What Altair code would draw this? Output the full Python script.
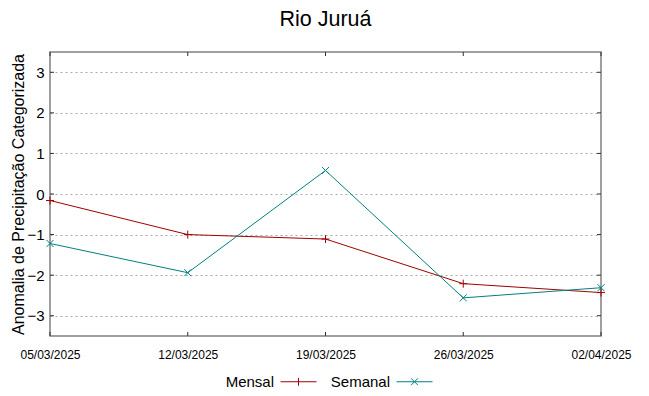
import altair as alt
import pandas as pd

dates = ["2025-03-05", "2025-03-12", "2025-03-19", "2025-03-26", "2025-04-02"]
mensal = [-0.16, -1.0, -1.11, -2.21, -2.43]
semanal = [-1.22, -1.94, 0.58, -2.56, -2.31]
series = ["Mensal", "Semanal"]
colors = ["#a00000", "#008080"]
y_ticks = [-3, -2, -1, 0, 1, 2, 3]

df = pd.DataFrame({
    "data": dates * 2,
    "valor": mensal + semanal,
    "serie": ["Mensal"] * len(dates) + ["Semanal"] * len(dates),
})
df_yt = pd.DataFrame({"valor": y_ticks})
df_xt = pd.DataFrame({"data": dates})

W, H = 551, 284
TICK = 4
FRAME = "#808080"
TICKCOL = "#303030"

PLUS = "M-1,0H1M0,-1V1"
CROSS = "M-1,-1L1,1M-1,1L1,-1"
LEG_PLUS = "M-1,0H1M0,-0.22V0.22"
LEG_CROSS = "M-1,0H1M-0.19,-0.19L0.19,0.19M-0.19,0.19L0.19,-0.19"


def dt(s):
    y, m, d = map(int, s.split("-"))
    return alt.DateTime(year=y, month=m, date=d, utc=True)


x = alt.X(
    "data:T",
    title=None,
    scale=alt.Scale(type="utc", domain=[dt(dates[0]), dt(dates[-1])]),
    axis=alt.Axis(
        values=[dt(d) for d in dates],
        format="%d/%m/%Y",
        grid=False,
        ticks=False,
        domain=False,
        labelFlush=False,
        labelOverlap=False,
        labelFont="Liberation Sans",
        labelFontSize=12,
        labelPadding=13,
        labelColor="#000000",
    ),
)
y = alt.Y(
    "valor:Q",
    title="Anomalia de Precipitação Categorizada",
    scale=alt.Scale(domain=[-3.5, 3.5], nice=False, zero=False),
    axis=alt.Axis(
        values=y_ticks,
        grid=True,
        gridDash=[2, 3],
        gridColor="#a8a8a8",
        gridWidth=1,
        ticks=False,
        domain=False,
        labelFont="Liberation Sans",
        labelFontSize=15,
        labelPadding=6,
        labelColor="#000000",
        titleFont="Liberation Sans",
        titleFontSize=16,
        titleFontWeight="normal",
        titleColor="#000000",
        titlePadding=0,
    ),
)

leg = alt.Legend(
    title=None,
    orient="none",
    legendX=230,
    legendY=311,
    direction="horizontal",
    labelFont="Liberation Sans",
    labelFontSize=15,
    labelColor="#000000",
    labelAlign="right",
    labelOffset=alt.ExprRef(expr="-43"),
    columnPadding=11,
    symbolStrokeWidth=1,
    symbolSize=1296,
)

color = alt.Color("serie:N", scale=alt.Scale(domain=series, range=colors), legend=leg)

base = alt.Chart(df)

lines = base.mark_line(strokeWidth=1).encode(x=x, y=y, color=color)

pts_m = base.transform_filter(alt.datum.serie == "Mensal").mark_point(
    shape=PLUS, size=64, filled=False, strokeWidth=1, color=colors[0], opacity=1
).encode(x=x, y=y)
pts_s = base.transform_filter(alt.datum.serie == "Semanal").mark_point(
    shape=CROSS, size=49, filled=False, strokeWidth=1, color=colors[1], opacity=1
).encode(x=x, y=y)

legend_layer = base.transform_filter("false").mark_point(
    filled=False, strokeWidth=1, size=1296, opacity=1
).encode(
    x=x,
    y=y,
    color=color,
    shape=alt.Shape("serie:N", scale=alt.Scale(domain=series, range=[LEG_PLUS, LEG_CROSS]), legend=leg),
)

# inward tick marks on all four sides of the frame
yt = alt.Chart(df_yt)
ticks_left = yt.mark_rule(color=TICKCOL, strokeWidth=1).encode(
    y=y, x=alt.value(0), x2=alt.value(TICK)
)
ticks_right = yt.mark_rule(color=TICKCOL, strokeWidth=1).encode(
    y=y, x=alt.value(W - TICK), x2=alt.value(W)
)
xt = alt.Chart(df_xt)
ticks_bottom = xt.mark_rule(color=TICKCOL, strokeWidth=1).encode(
    x=x, y=alt.value(H - TICK), y2=alt.value(H)
)
ticks_top = xt.mark_rule(color=TICKCOL, strokeWidth=1).encode(
    x=x, y=alt.value(0), y2=alt.value(TICK)
)

chart = (
    alt.layer(lines, pts_m, pts_s, legend_layer, ticks_left, ticks_right, ticks_bottom, ticks_top)
    .properties(
        width=W,
        height=H,
        autosize=alt.AutoSizeParams(type="none"),
        padding={"left": 42, "top": 44, "right": 40, "bottom": 52},
        title=alt.Title(
            "Rio Juruá",
            font="Liberation Sans",
            fontSize=21.5,
            fontWeight="normal",
            color="#000000",
            offset=21,
        ),
    )
    .configure(background="white", view=alt.ViewConfig(stroke=FRAME, strokeWidth=1.5))
)

chart.save("out.html", embed_options={"renderer": "svg", "actions": False})
